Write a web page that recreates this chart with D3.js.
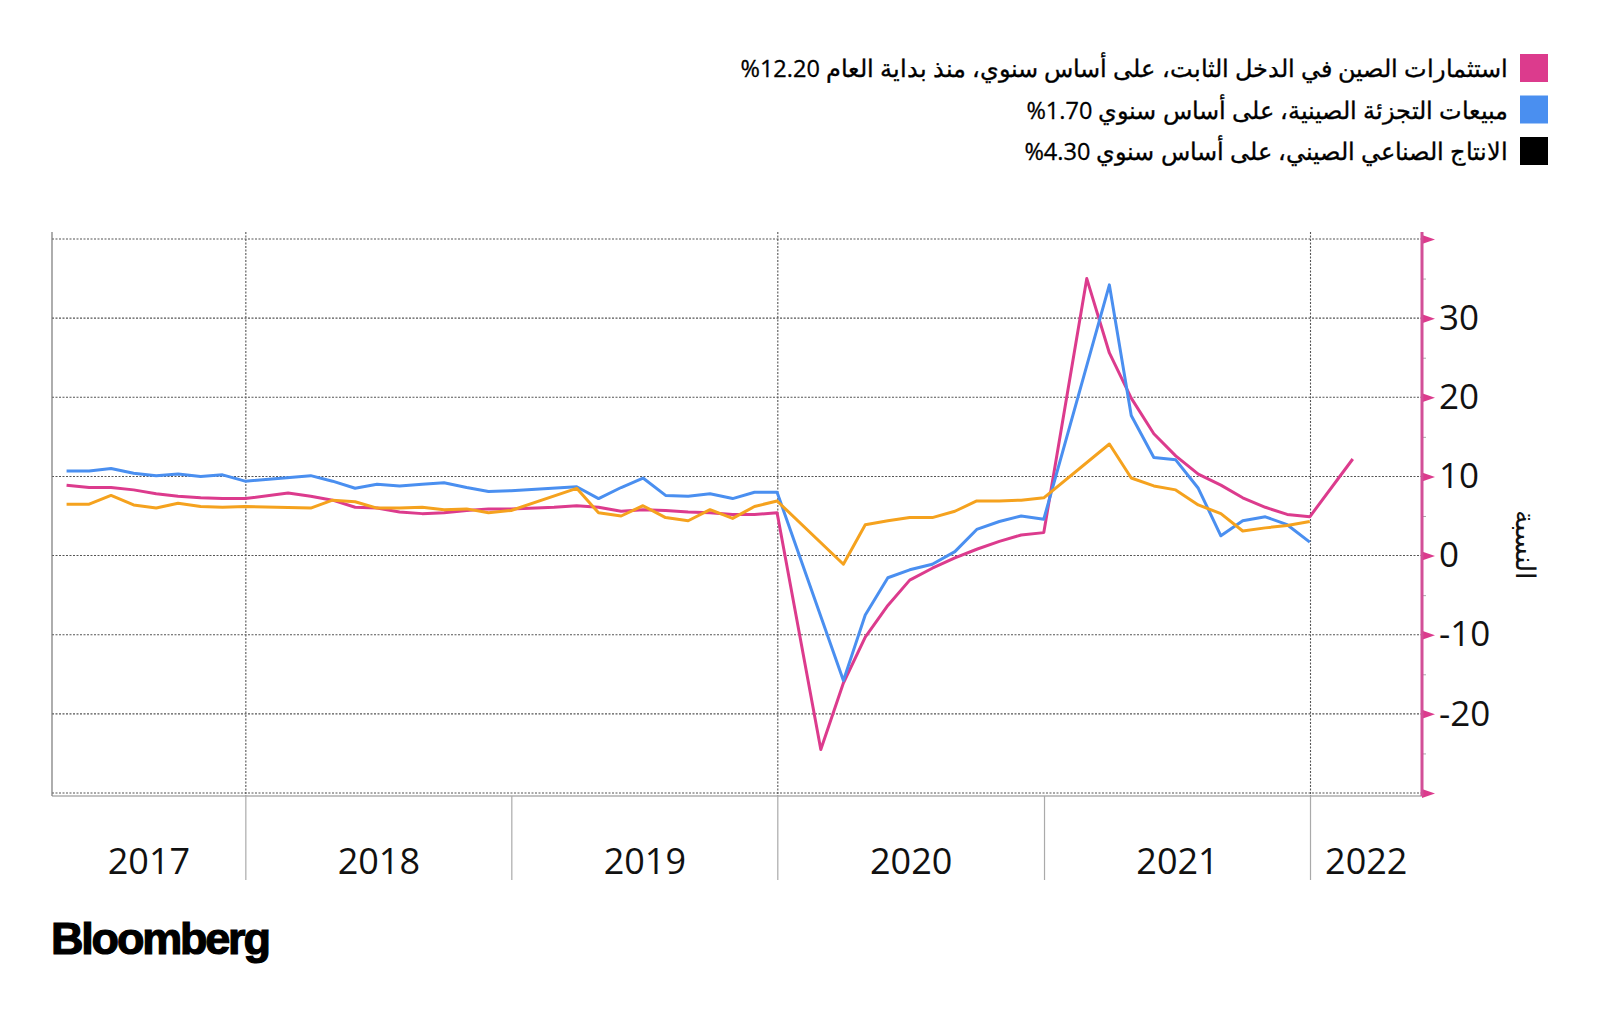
<!DOCTYPE html>
<html lang="ar">
<head>
  <meta charset="UTF-8">
  <title>China FAI, retail sales, industrial output</title>
  <script src="https://d3js.org/d3.v7.min.js"></script>
  <style>
    body { margin: 0; background: #fff; }
  </style>
</head>
<body>
<script>
// FAI year-to-date, monthly points (Jan-Feb reported together as Feb)
var faiMonths = [
  "2017-04","2017-05","2017-06","2017-07","2017-08","2017-09","2017-10","2017-11","2017-12",
  "2018-02","2018-03","2018-04","2018-05","2018-06","2018-07","2018-08","2018-09","2018-10","2018-11","2018-12",
  "2019-02","2019-03","2019-04","2019-05","2019-06","2019-07","2019-08","2019-09","2019-10","2019-11","2019-12",
  "2020-02","2020-03","2020-04","2020-05","2020-06","2020-07","2020-08","2020-09","2020-10","2020-11","2020-12",
  "2021-02","2021-03","2021-04","2021-05","2021-06","2021-07","2021-08","2021-09","2021-10","2021-11","2021-12",
  "2022-02"
];
var faiValues = [
  8.9, 8.6, 8.6, 8.3, 7.8, 7.5, 7.3, 7.2, 7.2,
  7.9, 7.5, 7.0, 6.1, 6.0, 5.5, 5.3, 5.4, 5.7, 5.9, 5.9,
  6.1, 6.3, 6.1, 5.6, 5.8, 5.7, 5.5, 5.4, 5.2, 5.2, 5.4,
  -24.5, -16.1, -10.3, -6.3, -3.1, -1.6, -0.3, 0.8, 1.8, 2.6, 2.9,
  35.0, 25.6, 19.9, 15.4, 12.6, 10.3, 8.9, 7.3, 6.1, 5.2, 4.9,
  12.2
];
// retail sales and industrial output share the same months (no Jan/Feb)
var monthlyMonths = [
  "2017-04","2017-05","2017-06","2017-07","2017-08","2017-09","2017-10","2017-11","2017-12",
  "2018-03","2018-04","2018-05","2018-06","2018-07","2018-08","2018-09","2018-10","2018-11","2018-12",
  "2019-03","2019-04","2019-05","2019-06","2019-07","2019-08","2019-09","2019-10","2019-11","2019-12",
  "2020-03","2020-04","2020-05","2020-06","2020-07","2020-08","2020-09","2020-10","2020-11","2020-12",
  "2021-03","2021-04","2021-05","2021-06","2021-07","2021-08","2021-09","2021-10","2021-11","2021-12"
];
var retailValues = [
  10.7, 10.7, 11.0, 10.4, 10.1, 10.3, 10.0, 10.2, 9.4,
  10.1, 9.4, 8.5, 9.0, 8.8, 9.0, 9.2, 8.6, 8.1, 8.2,
  8.7, 7.2, 8.6, 9.8, 7.6, 7.5, 7.8, 7.2, 8.0, 8.0,
  -15.8, -7.5, -2.8, -1.8, -1.1, 0.5, 3.3, 4.3, 5.0, 4.6,
  34.2, 17.7, 12.4, 12.1, 8.5, 2.5, 4.4, 4.9, 3.9, 1.7
];
var ipValues = [
  6.5, 6.5, 7.6, 6.4, 6.0, 6.6, 6.2, 6.1, 6.2,
  6.0, 7.0, 6.8, 6.0, 6.0, 6.1, 5.8, 5.9, 5.4, 5.7,
  8.5, 5.4, 5.0, 6.3, 4.8, 4.4, 5.8, 4.7, 6.2, 6.9,
  -1.1, 3.9, 4.4, 4.8, 4.8, 5.6, 6.9, 6.9, 7.0, 7.3,
  14.1, 9.8, 8.8, 8.3, 6.4, 5.3, 3.1, 3.5, 3.8, 4.3
];

// last readings, shown as "%x.xx" (forced left-to-right with LRO/PDF)
var legendLabels = [
  "استثمارات الصين في الدخل الثابت، على أساس سنوي، منذ بداية العام \u202D%12.20\u202C",
  "مبيعات التجزئة الصينية، على أساس سنوي \u202D%1.70\u202C",
  "الانتاج الصناعي الصيني، على أساس سنوي \u202D%4.30\u202C"
];
var legendColors = ["#dc3b8d", "#4a8ff0", "#000000"];
var yearLabels = [2017, 2018, 2019, 2020, 2021, 2022];
var yTicks = [-30, -20, -10, 0, 10, 20, 30, 40];
var axisTitle = "النسبة";

var width = 1600, height = 1017,
  margin = {top: 239, right: 178, bottom: 224, left: 52};

var pink = "#dc3b8d", blue = "#4a8ff0", orange = "#f5a21e";

var svg = d3.select("body")
        .append("svg")
        .attr("width", width)
        .attr("height", height)
        .style("font-family", "'Open Sans', 'Noto Sans', sans-serif");

function monthEnd(s) {
  var p = s.split("-");
  return new Date(+p[0], +p[1], 0);
}

var x = d3.scaleTime()
    .domain([new Date(2017, 3, 10), new Date(2022, 5, 3)])
    .range([margin.left, width - margin.right]);

var y = d3.scaleLinear()
    .domain([-30, 40])
    .range([height - margin.bottom, margin.top]);

var plotTop = 232, axisY = 796;

// horizontal gridlines
svg.append("g")
  .selectAll("line")
  .data(yTicks)
  .join("line")
    .attr("x1", x.range()[0])
    .attr("x2", x.range()[1])
    .attr("y1", d => y(d))
    .attr("y2", d => y(d))
    .attr("stroke", "#555")
    .attr("stroke-width", 1.1)
    .attr("stroke-dasharray", "2,1.5");

// vertical gridlines every other year
var yearStarts = yearLabels.slice(1).map(function(yr) { return new Date(yr, 0, 1); });
svg.append("g")
  .selectAll("line")
  .data(yearStarts.filter(function(d) { return d.getFullYear() % 2 === 0; }))
  .join("line")
    .attr("x1", d => x(d))
    .attr("x2", d => x(d))
    .attr("y1", plotTop)
    .attr("y2", axisY)
    .attr("stroke", "#555")
    .attr("stroke-width", 1.1)
    .attr("stroke-dasharray", "2,1.5");

// left border and bottom axis line
svg.append("line")
    .attr("x1", x.range()[0]).attr("x2", x.range()[0])
    .attr("y1", plotTop).attr("y2", axisY)
    .attr("stroke", "#777").attr("stroke-width", 1.2);
svg.append("line")
    .attr("x1", x.range()[0]).attr("x2", x.range()[1])
    .attr("y1", axisY).attr("y2", axisY)
    .attr("stroke", "#888").attr("stroke-width", 1.2);

// year separators below axis
svg.append("g")
  .selectAll("line")
  .data(yearStarts)
  .join("line")
    .attr("x1", d => x(d))
    .attr("x2", d => x(d))
    .attr("y1", axisY)
    .attr("y2", 880)
    .attr("stroke", "#aaa")
    .attr("stroke-width", 1.2);

// year labels centred in the visible part of each year
svg.append("g")
  .selectAll("text")
  .data(yearLabels)
  .join("text")
    .attr("x", function(yr) {
      var a = Math.max(x(new Date(yr, 0, 1)), x.range()[0]);
      var b = Math.min(x(new Date(yr + 1, 0, 1)), x.range()[1]);
      return (a + b) / 2;
    })
    .attr("y", 874)
    .attr("text-anchor", "middle")
    .attr("font-size", 36)
    .attr("fill", "#111")
    .text(d => d);

// lines
var line = d3.line()
    .x(d => x(d[0]))
    .y(d => y(d[1]));

var series = [
  {color: pink, data: faiMonths.map((m, i) => [monthEnd(m), faiValues[i]])},
  {color: blue, data: monthlyMonths.map((m, i) => [monthEnd(m), retailValues[i]])},
  {color: orange, data: monthlyMonths.map((m, i) => [monthEnd(m), ipValues[i]])}
];

svg.append("g")
  .selectAll("path")
  .data(series)
  .join("path")
    .attr("fill", "none")
    .attr("stroke", d => d.color)
    .attr("stroke-width", 3)
    .attr("stroke-linejoin", "round")
    .attr("d", d => line(d.data));

// right axis
var axisX = x.range()[1];
var minorAxis = d3.axisRight(y)
    .tickValues(d3.range(-25, 40, 10))
    .tickSize(4)
    .tickFormat("");
svg.append("g")
    .attr("transform", "translate(" + axisX + ",0)")
    .call(minorAxis)
    .call(g => g.select(".domain").remove())
    .call(g => g.selectAll(".tick line").attr("stroke", "#aaa"));

var yAxis = d3.axisRight(y)
    .tickValues(yTicks)
    .tickSize(0)
    .tickPadding(17)
    .tickFormat(d => (d === 40 || d === -30) ? "" : d);

svg.append("g")
    .attr("transform", "translate(" + axisX + ",0)")
    .call(customYAxis);

function customYAxis(g) {
  g.call(yAxis);
  g.select(".domain").remove();
  g.selectAll(".tick text")
    .attr("font-size", 35)
    .attr("font-family", "'Open Sans', sans-serif")
    .attr("fill", "#111");
  g.selectAll(".tick").append("path")
    .attr("d", "M0,-4.5L13,0L0,4.5Z")
    .attr("fill", pink);
}

svg.append("line")
    .attr("x1", axisX).attr("x2", axisX)
    .attr("y1", plotTop).attr("y2", axisY)
    .attr("stroke", "#d24f97").attr("stroke-width", 3);

// axis title
svg.append("text")
    .attr("transform", "translate(1516,545) rotate(90)")
    .attr("text-anchor", "middle")
    .attr("direction", "rtl")
    .attr("font-size", 27)
    .attr("fill", "#111")
    .text(axisTitle);

// legend
var legend = svg.append("g")
  .selectAll("g")
  .data(legendLabels)
  .join("g")
    .attr("transform", (d, i) => "translate(0," + (54 + i * 41.5) + ")");

legend.append("rect")
    .attr("x", 1520)
    .attr("width", 28)
    .attr("height", 28)
    .attr("fill", (d, i) => legendColors[i]);

legend.append("text")
    .attr("x", 1508)
    .attr("y", 23)
    .attr("direction", "rtl")
    .attr("text-anchor", "start")
    .attr("font-size", 23.5)
    .attr("fill", "#000")
    .attr("stroke", "#000")
    .attr("stroke-width", 0.3)
    .text(d => d);

// logo
svg.append("text")
    .attr("x", 51)
    .attr("y", 954)
    .attr("font-family", "'Liberation Sans', Arial, sans-serif")
    .attr("font-weight", "bold")
    .attr("font-size", 45)
    .attr("letter-spacing", -2.2)
    .attr("fill", "#000")
    .attr("stroke", "#000")
    .attr("stroke-width", 1.2)
    .text("Bloomberg");
</script>
</body>
</html>
